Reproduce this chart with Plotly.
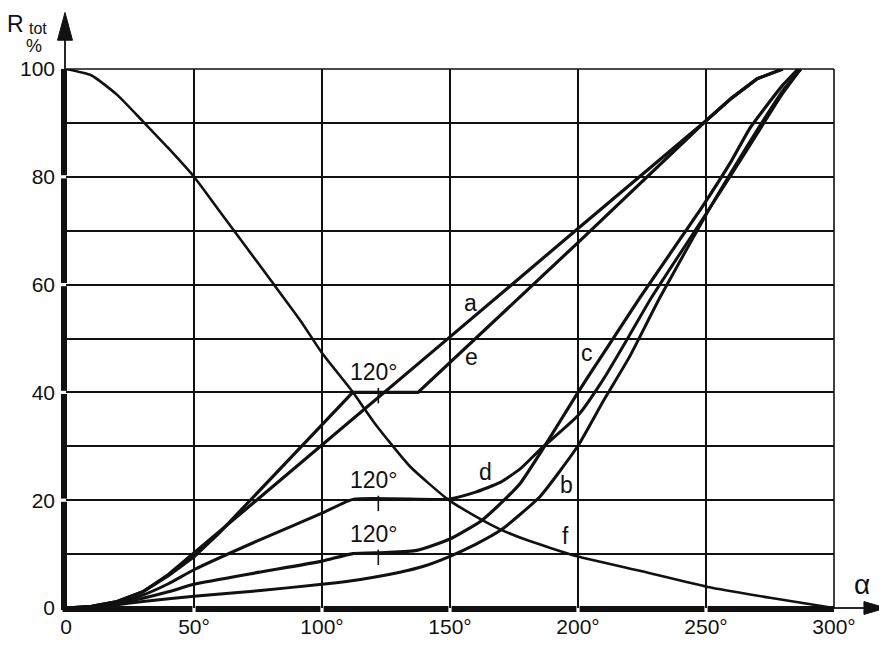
import plotly.graph_objects as go

# ---------------- data ----------------
x_ticks = [0, 50, 100, 150, 200, 250, 300]
x_ticktext = ["0", "50°", "100°", "150°", "200°", "250°", "300°"]
y_ticks = [0, 20, 40, 60, 80, 100]
y_ticktext = ["0", "20", "40", "60", "80", "100"]

a_x = [0, 10, 20, 30, 40, 50, 100, 150, 200, 250, 260, 270, 280]
a_y = [0, 0.3, 1.2, 3.0, 6.2, 10.2, 30.3, 50.3, 70.4, 90.4, 94.6, 98.2, 100]

e_x = [0, 10, 20, 30, 40, 50, 60, 112, 137.5, 200, 250, 260, 270, 280]
e_y = [0, 0.3, 1.2, 3.0, 6.0, 9.5, 14, 40, 40, 67.8, 90.4, 94.6, 98.2, 100]

d_x = [0, 10, 20, 30, 40, 50, 75, 100, 112.4, 149.4, 160, 169.6, 177.4, 185.2,
       200, 210, 220, 228.7, 251.5, 260, 270, 280, 287]
d_y = [0, 0.25, 1.0, 2.4, 4.5, 7.1, 12.5, 17.6, 20.2, 20.2, 21.5, 23.3, 25.8, 29.4,
       35.7, 42.5, 50.5, 57.6, 74.2, 80.5, 88, 95.5, 100]

c_x = [0, 10, 20, 30, 40, 50, 75, 100, 112, 125, 137, 150, 162, 170, 177.4, 185.2,
       200, 210, 224.2, 248.2, 260, 267, 275, 280, 286]
c_y = [0, 0.2, 0.8, 1.8, 3.0, 4.4, 6.6, 8.7, 10.1, 10.3, 10.7, 12.8, 16.1, 19.5, 23.1, 28.7,
       40, 47.3, 57.6, 74.2, 83, 88.9, 94, 97, 100]

b_x = [0, 10, 20, 30, 50, 75, 100, 115, 130, 140, 150, 160, 170, 185.2, 200, 210,
       220, 232, 251.5, 260, 272, 280, 287]
b_y = [0, 0.15, 0.6, 1.2, 2.2, 3.2, 4.4, 5.3, 6.6, 7.8, 9.6, 11.8, 14.5, 20.7, 30.1, 38.5,
       46.5, 57.6, 74.2, 81, 90.2, 96, 100]

f_x = [0, 10, 20, 30, 40, 50, 60, 70, 80, 91.6, 100, 111.8, 121, 134.5, 149.3, 160,
       169.6, 180, 199.6, 225, 250.7, 275, 300]
f_y = [100, 98.8, 95.2, 90.3, 85.3, 80, 73.6, 67.2, 60.8, 53.3, 47.3, 40.2, 34, 26.2, 20.1, 17,
       14.6, 12.6, 9.6, 6.8, 3.9, 1.9, 0]

# dwell marks ("120°") on the flat parts of e, d, c
dwell_x = [122, 122, 122]
dwell_y = [40, 20, 10]
dwell_label = ["120°", "120°", "120°"]

# ---------------- layout geometry ----------------
# the page body has an 8 px margin; screen coordinates below are page pixels
OFF = 8
W, H = 887 - OFF, 650 - OFF
SL, SR, ST, SB = 65, 834, 69, 612          # plot area on screen
L, R, T, B = SL - OFF, W - (SR - OFF), ST - OFF, H - (SB - OFF)
PW, PH = SR - SL, SB - ST
FONT = "Liberation Sans, Arial, sans-serif"
INK = "#111111"


def pxx(p):
    return (p - SL) / PW


def pxy(p):
    return (SB - p) / PH


fig = go.Figure()

curves = [
    (a_x, a_y, "linear", 3.2),
    (e_x, e_y, "linear", 3.2),
    (d_x, d_y, "spline", 3.0),
    (c_x, c_y, "spline", 3.2),
    (b_x, b_y, "spline", 3.0),
    (f_x, f_y, "spline", 2.6),
]
for xs, ys, shape, w in curves:
    fig.add_trace(go.Scatter(
        x=xs, y=ys, mode="lines",
        line=dict(color=INK, width=w, shape=shape, smoothing=0.5 if shape == "spline" else None),
        showlegend=False, hoverinfo="skip"))

# small tick marks on the dwell segments
fig.add_trace(go.Scatter(
    x=dwell_x, y=[v - 0.6 for v in dwell_y], mode="markers",
    marker=dict(symbol="line-ns", size=11, line=dict(color=INK, width=1.6)),
    showlegend=False, hoverinfo="skip", cliponaxis=False))

shapes = []
# frame lines at top / right
shapes.append(dict(type="line", xref="paper", yref="paper", x0=0, x1=1, y0=1, y1=1,
                   line=dict(color=INK, width=1.6)))
shapes.append(dict(type="line", xref="paper", yref="paper", x0=1, x1=1, y0=0, y1=1,
                   line=dict(color=INK, width=1.6)))

# thick axis bars with small breaks at the labelled grid lines
gx = 1.6 / PW
for i in range(len(x_ticks) - 1):
    x0 = x_ticks[i] / x_ticks[-1] + (gx if i > 0 else -3.5 / PW)
    x1 = x_ticks[i + 1] / x_ticks[-1] - (gx if i < len(x_ticks) - 2 else 0)
    shapes.append(dict(type="line", xref="paper", yref="paper", x0=x0, x1=x1,
                       y0=pxy(SB + 1), y1=pxy(SB + 1), line=dict(color=INK, width=6)))
gy = 1.6 / PH
for i in range(len(y_ticks) - 1):
    y0 = y_ticks[i] / 100 + (gy if i > 0 else -2 / PH)
    y1 = y_ticks[i + 1] / 100 - (gy if i < len(y_ticks) - 2 else 0)
    shapes.append(dict(type="line", xref="paper", yref="paper", x0=pxx(SL - 2), x1=pxx(SL - 2),
                       y0=y0, y1=y1, line=dict(color=INK, width=6)))

# thin axis extensions and arrow heads
shapes.append(dict(type="line", xref="paper", yref="paper", x0=pxx(SL - 1), x1=pxx(SL - 1),
                   y0=1, y1=pxy(38), line=dict(color=INK, width=1.8)))
shapes.append(dict(type="path", xref="paper", yref="paper",
                   path=f"M {pxx(SL-8.5)},{pxy(40)} L {pxx(SL+6.5)},{pxy(40)} L {pxx(SL-1)},{pxy(12)} Z",
                   fillcolor=INK, line=dict(color=INK, width=1)))
shapes.append(dict(type="line", xref="paper", yref="paper", x0=1, x1=pxx(866),
                   y0=0, y1=0, line=dict(color=INK, width=1.8)))
shapes.append(dict(type="path", xref="paper", yref="paper",
                   path=f"M {pxx(864)},{pxy(SB-6.5)} L {pxx(864)},{pxy(SB+6.5)} L {pxx(886)},{pxy(SB)} Z",
                   fillcolor=INK, line=dict(color=INK, width=1)))

annotations = []
curve_labels = [("a", 157.9, 56.6), ("e", 158.5, 46.5), ("c", 203.4, 47.4),
                ("d", 163.7, 25.3), ("b", 195.6, 22.8), ("f", 195.0, 13.3)]
for txt, x, y in curve_labels:
    annotations.append(dict(x=x, y=y, xref="x", yref="y", text=txt, showarrow=False,
                            font=dict(family=FONT, size=23, color=INK)))
for x, y, txt in zip(dwell_x, dwell_y, dwell_label):
    annotations.append(dict(x=x - 1.5, y=y + 3.7, xref="x", yref="y", text=txt, showarrow=False,
                            font=dict(family=FONT, size=23, color=INK)))

# axis titles: R (with subscript "tot"), "%" and alpha
annotations.append(dict(x=pxx(14), y=pxy(24), xref="paper", yref="paper", xanchor="center",
                        yanchor="middle", text="R", showarrow=False,
                        font=dict(family=FONT, size=23, color=INK)))
annotations.append(dict(x=pxx(37), y=pxy(28), xref="paper", yref="paper", xanchor="center",
                        yanchor="middle", text="tot", showarrow=False,
                        font=dict(family=FONT, size=16, color=INK)))
annotations.append(dict(x=pxx(33), y=pxy(46), xref="paper", yref="paper", xanchor="center",
                        yanchor="middle", text="%", showarrow=False,
                        font=dict(family=FONT, size=18, color=INK)))
annotations.append(dict(x=pxx(862), y=pxy(588), xref="paper", yref="paper", xanchor="center",
                        yanchor="middle", text="α", showarrow=False,
                        font=dict(family=FONT, size=28, color=INK)))

fig.update_layout(
    width=W, height=H, autosize=False,
    margin=dict(l=L, r=R, t=T, b=B, pad=0),
    paper_bgcolor="white", plot_bgcolor="white",
    shapes=shapes, annotations=annotations,
    font=dict(family=FONT, size=20, color=INK),
    xaxis=dict(range=[0, 300], tickvals=x_ticks, ticktext=x_ticktext, showgrid=True,
               gridcolor=INK, gridwidth=1.5, zeroline=False, showline=False, ticks="",
               ticklabelstandoff=4, tickfont=dict(family=FONT, size=21, color=INK),
               fixedrange=True, layer="below traces"),
    yaxis=dict(range=[0, 100], tickvals=y_ticks, ticktext=y_ticktext, showgrid=True,
               gridcolor=INK, gridwidth=1.5, zeroline=False, showline=False, ticks="",
               ticklabelstandoff=10, tickfont=dict(family=FONT, size=21, color=INK),
               minor=dict(dtick=10, showgrid=True, gridcolor=INK, gridwidth=1.5, ticks=""),
               fixedrange=True, layer="below traces"),
)

fig.write_html("out.html")
